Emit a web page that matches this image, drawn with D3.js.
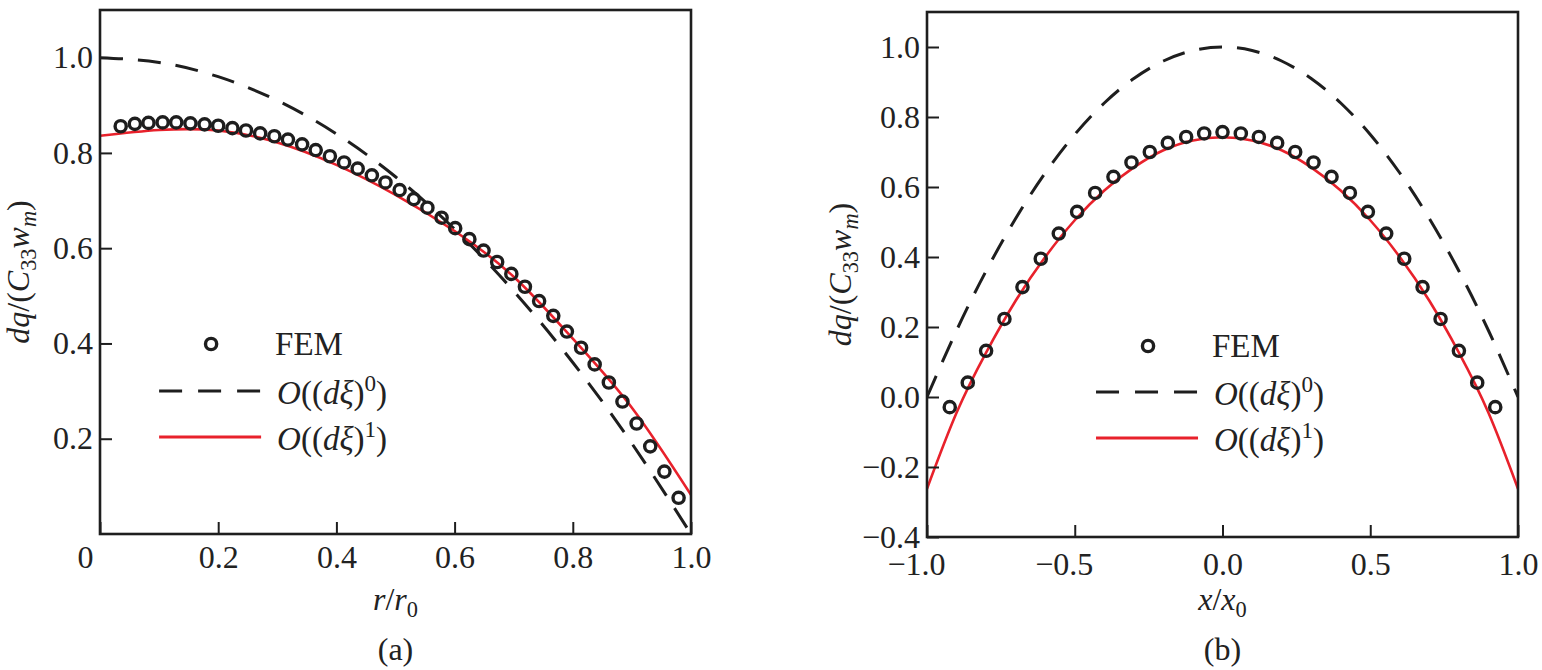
<!DOCTYPE html>
<html>
<head>
<meta charset="utf-8">
<script src="https://cdn.jsdelivr.net/npm/d3@7"></script>
<style>
  body { margin: 0; background: #fff; }
  text { font-family: "Liberation Serif", "DejaVu Serif", serif; fill: #222; }
</style>
</head>
<body>
<div id="chart"></div>
<script>
// ---- panel (a) : r/r0 ----
const rGrid  = [0, 0.1, 0.2, 0.3, 0.4, 0.5, 0.6, 0.7, 0.8, 0.9, 1.0];
const dashA  = [1.000, 0.990, 0.960, 0.910, 0.840, 0.750, 0.640, 0.510, 0.360, 0.190, 0.000];
const redA   = [0.836, 0.848, 0.847, 0.822, 0.775, 0.712, 0.636, 0.540, 0.410, 0.265, 0.082];
const femR   = [0.035, 0.059, 0.082, 0.106, 0.129, 0.153, 0.177, 0.200, 0.224, 0.247,
                0.271, 0.295, 0.318, 0.342, 0.365, 0.389, 0.413, 0.436, 0.460, 0.483,
                0.507, 0.531, 0.554, 0.578, 0.601, 0.625, 0.649, 0.672, 0.696, 0.719,
                0.743, 0.767, 0.790, 0.814, 0.837, 0.861, 0.884, 0.908, 0.931, 0.955, 0.979];
const femA   = [0.856, 0.861, 0.863, 0.864, 0.864, 0.862, 0.860, 0.857, 0.852, 0.847,
                0.841, 0.835, 0.828, 0.818, 0.806, 0.793, 0.780, 0.767, 0.753, 0.738,
                0.722, 0.703, 0.685, 0.664, 0.642, 0.619, 0.595, 0.571, 0.546, 0.519,
                0.489, 0.458, 0.425, 0.391, 0.356, 0.318, 0.278, 0.232, 0.184, 0.131, 0.076];
const xTicksA = [0, 0.2, 0.4, 0.6, 0.8, 1.0];
const yTicksA = [0.2, 0.4, 0.6, 0.8, 1.0];

// ---- panel (b) : x/x0 ----
const xGrid  = [-1.0, -0.9, -0.8, -0.7, -0.6, -0.5, -0.4, -0.3, -0.2, -0.1, 0,
                 0.1, 0.2, 0.3, 0.4, 0.5, 0.6, 0.7, 0.8, 0.9, 1.0];
const dashB  = [0.000, 0.190, 0.360, 0.510, 0.640, 0.750, 0.840, 0.910, 0.960, 0.990, 1.000,
                0.990, 0.960, 0.910, 0.840, 0.750, 0.640, 0.510, 0.360, 0.190, 0.000];
const redB   = [-0.262, -0.045, 0.127, 0.275, 0.400, 0.505, 0.590, 0.656, 0.705, 0.733, 0.742,
                 0.733, 0.705, 0.656, 0.590, 0.505, 0.400, 0.275, 0.127, -0.045, -0.262];
const femX   = [-0.923, -0.862, -0.800, -0.738, -0.677, -0.615, -0.554, -0.492, -0.431, -0.369,
                -0.308, -0.246, -0.185, -0.123, -0.062, 0, 0.062, 0.123, 0.185, 0.246,
                 0.308, 0.369, 0.431, 0.492, 0.554, 0.615, 0.677, 0.738, 0.800, 0.862, 0.923];
const femB   = [-0.029, 0.041, 0.132, 0.223, 0.314, 0.395, 0.467, 0.529, 0.583, 0.629,
                 0.670, 0.700, 0.726, 0.743, 0.753, 0.757, 0.753, 0.743, 0.726, 0.700,
                 0.670, 0.629, 0.583, 0.529, 0.467, 0.395, 0.314, 0.223, 0.132, 0.041, -0.029];
const xTicksB = [-1.0, -0.5, 0, 0.5, 1.0];
const yTicksB = [-0.4, -0.2, 0, 0.2, 0.4, 0.6, 0.8, 1.0];

const ink = "#1e1e1e";
const red = "#e8212b";
const serif = '"Liberation Serif", "DejaVu Serif", serif';
const fmt = d => (d < 0 ? "\u2212" : "") + Math.abs(d).toFixed(1);

const svg = d3.select("#chart")
              .append("svg")
              .attr("width", 1542)
              .attr("height", 670);

// pieces of math text: [text, italic, shift]  shift: 0 normal, 1 sub, -1 sup
function mathText(sel, parts, size) {
    let level = 0;
    parts.forEach(([t, it, s]) => {
        const small = size * 0.7;
        const dy = (s - level) * (s === 1 || level === 1 ? size * 0.22 : size * 0.38);
        sel.append("tspan")
           .attr("dy", s === level ? null : (s > level ? Math.abs(dy) : -Math.abs(dy)))
           .attr("font-style", it ? "italic" : "normal")
           .attr("font-size", s === 0 ? size : small)
           .text(t);
        level = s;
    });
}

function drawPanel(p) {
    const x = d3.scaleLinear().domain(p.xDomain).range([p.left, p.right]);
    const y = d3.scaleLinear().domain(p.yDomain).range([p.bottom, p.top]);
    const g = svg.append("g");

    g.append("clipPath")
     .attr("id", "clip-" + p.id)
     .append("rect")
     .attr("x", p.left).attr("y", p.top)
     .attr("width", p.right - p.left).attr("height", p.bottom - p.top);

    const line = xs => d3.line()
                         .curve(d3.curveNatural)
                         .x((_, i) => x(xs[i]))
                         .y(d => y(d));

    // O((dξ)^0)
    g.append("path")
     .attr("d", line(p.lineX)(p.dash))
     .attr("fill", "none")
     .attr("stroke", ink)
     .attr("stroke-width", 3)
     .attr("stroke-dasharray", "23 15")
     .attr("clip-path", `url(#clip-${p.id})`);

    // O((dξ)^1)
    g.append("path")
     .attr("d", line(p.lineX)(p.red))
     .attr("fill", "none")
     .attr("stroke", red)
     .attr("stroke-width", 2.6)
     .attr("clip-path", `url(#clip-${p.id})`);

    // FEM
    g.append("g")
     .selectAll("circle")
     .data(p.fem)
     .join("circle")
     .attr("cx", (_, i) => x(p.femX[i]))
     .attr("cy", d => y(d))
     .attr("r", 5.6)
     .attr("fill", "none")
     .attr("stroke", ink)
     .attr("stroke-width", 3.4);

    // X axis
    g.append("g")
     .attr("transform", `translate(0, ${p.bottom})`)
     .attr("color", ink)
     .call(d3.axisBottom(x).tickValues(p.xTicks).tickSize(-12).tickPadding(p.xPad).tickFormat(p.xFormat))
     .attr("font-family", serif)
     .attr("font-size", 32)
     .call(a => {
         a.select(".domain").remove();
         a.selectAll("line").attr("stroke-width", 2);
         a.selectAll("text").attr("dx", p.xShift);
     });

    // Y axis
    g.append("g")
     .attr("transform", `translate(${p.left}, 0)`)
     .attr("color", ink)
     .call(d3.axisLeft(y).tickValues(p.yTicks).tickSize(-12).tickPadding(7).tickFormat(fmt))
     .attr("font-family", serif)
     .attr("font-size", 32)
     .call(a => {
         a.select(".domain").remove();
         a.selectAll("line").attr("stroke-width", 2);
     });

    // frame
    g.append("rect")
     .attr("x", p.left).attr("y", p.top)
     .attr("width", p.right - p.left).attr("height", p.bottom - p.top)
     .attr("fill", "none")
     .attr("stroke", ink)
     .attr("stroke-width", 2.6);

    // axis titles
    const cx = (p.left + p.right) / 2;
    mathText(g.append("text").attr("x", cx).attr("y", 610).attr("text-anchor", "middle"),
             p.xTitle, 32);
    g.append("text")
     .attr("x", cx).attr("y", 660)
     .attr("text-anchor", "middle")
     .attr("font-size", 32)
     .text(p.tag);
    mathText(g.append("text")
              .attr("transform", `translate(${p.yTitleX}, ${(p.top + p.bottom) / 2}) rotate(-90)`)
              .attr("text-anchor", "middle"),
             [["dq", true, 0], ["/(", false, 0], ["C", true, 0], ["33", false, 1],
              ["w", true, 0], ["m", true, 1], [")", false, 0]], 32);

    // legend
    const lx = p.left + p.legend[0] * (p.right - p.left);
    const rows = p.legend.slice(1);
    const leg = g.append("g");
    leg.append("circle")
       .attr("cx", lx + 52).attr("cy", rows[0])
       .attr("r", 5.6)
       .attr("fill", "none")
       .attr("stroke", ink)
       .attr("stroke-width", 3.4);
    leg.append("line")
       .attr("x1", lx).attr("x2", lx + 102)
       .attr("y1", rows[1]).attr("y2", rows[1])
       .attr("stroke", ink)
       .attr("stroke-width", 3)
       .attr("stroke-dasharray", "23 16");
    leg.append("line")
       .attr("x1", lx).attr("x2", lx + 102)
       .attr("y1", rows[2]).attr("y2", rows[2])
       .attr("stroke", red)
       .attr("stroke-width", 3);
    leg.append("text")
       .attr("x", lx + 116).attr("y", rows[0] + 11)
       .attr("font-size", 33)
       .text("FEM");
    ["0", "1"].forEach((k, i) => {
        mathText(leg.append("text").attr("x", lx + 118).attr("y", rows[i + 1] + 13),
                 [["O", true, 0], ["((", false, 0], ["d\u03be", true, 0], [")", false, 0],
                  [k, false, -1], [")", false, 0]], 33);
    });
}

drawPanel({
    id: "a",
    left: 100, right: 691, top: 10, bottom: 534,
    xDomain: [0, 1], yDomain: [0, 1.1],
    lineX: rGrid, dash: dashA, red: redA, femX: femR, fem: femA,
    xTicks: xTicksA, yTicks: yTicksA,
    xFormat: d => d === 0 ? "0" : fmt(d),
    xShift: d => d === 0 ? -15 : 0,
    xPad: 11,
    xTitle: [["r", true, 0], ["/", false, 0], ["r", true, 0], ["0", false, 1]],
    tag: "(a)",
    yTitleX: 29,
    legend: [0.1, 344, 391, 437]
});

drawPanel({
    id: "b",
    left: 927, right: 1518, top: 12, bottom: 537,
    xDomain: [-1, 1], yDomain: [-0.4, 1.1],
    lineX: xGrid, dash: dashB, red: redB, femX: femX, fem: femB,
    xTicks: xTicksB, yTicks: yTicksB,
    xFormat: fmt,
    xShift: d => d < 0 ? -11 : 0,
    xPad: 15,
    xTitle: [["x", true, 0], ["/", false, 0], ["x", true, 0], ["0", false, 1]],
    tag: "(b)",
    yTitleX: 851,
    legend: [0.286, 346, 392, 438]
});
</script>
</body>
</html>
